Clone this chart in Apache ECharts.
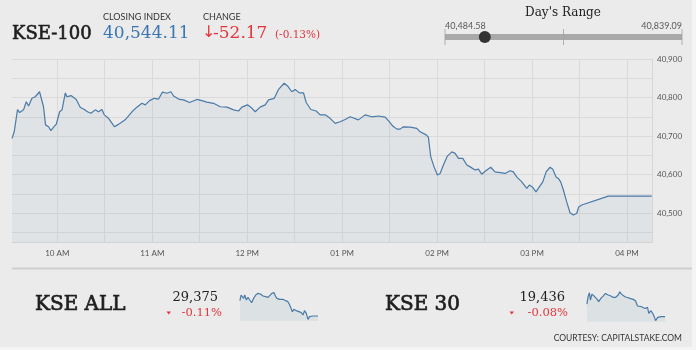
<!DOCTYPE html>
<html><head><meta charset="utf-8">
<script src="https://cdn.jsdelivr.net/npm/echarts@6/dist/echarts.min.js"></script>
<style>html,body{margin:0;padding:0;background:#ebebeb}#c{width:696px;height:350px}</style>
</head><body><div id="c"></div>
<script>
// ---------- data ----------
const kse100Times = ['09:31:24','09:32:48','09:34:54','09:36:12','09:38:42','09:40:24','09:41:54','09:44:00','09:46:06','09:48:48',
'09:49:42','09:51:18','09:52:36','09:54:30','09:56:00','09:57:42','09:59:24','10:01:30','10:03:00','10:05:06',
'10:06:06','10:08:42','10:12:00','10:14:30','10:17:06','10:19:06','10:21:18','10:24:00','10:26:06','10:28:12',
'10:29:42','10:32:24','10:36:12','10:38:06','10:39:18','10:42:54','10:47:12','10:50:18','10:53:30','10:55:36',
'10:58:18','11:01:18','11:04:00','11:06:30','11:09:18','11:11:48','11:13:30','11:17:12','11:19:48','11:23:36',
'11:28:12','11:31:24','11:34:30','11:38:42','11:43:00','11:47:12','11:51:24','11:54:30','11:56:42','12:00:12',
'12:02:18','12:05:06','12:08:12','12:11:24','12:13:30','12:17:06','12:19:48','12:23:24','12:25:30','12:28:12',
'12:30:18','12:33:00','12:35:36','12:37:18','12:40:12','12:43:36','12:46:06','12:49:18','12:52:24','12:55:36',
'12:58:42','13:01:54','13:05:06','13:06:06','13:10:18','13:14:30','13:18:48','13:22:54','13:27:12','13:29:54',
'13:32:00','13:34:36','13:36:36','13:38:42','13:43:00','13:47:12','13:49:18','13:53:06','13:54:30','13:56:00',
'13:58:06','14:00:12','14:01:54','14:04:00','14:06:30','14:09:18','14:11:24','14:13:30','14:16:12','14:18:48',
'14:20:54','14:24:00','14:26:06','14:28:12','14:30:48','14:33:54','14:36:36','14:39:48','14:43:00','14:46:06',
'14:48:12','14:50:18','14:53:30','14:56:42','14:58:18','15:00:12','15:02:30','15:04:36','15:06:48','15:08:54',
'15:11:24','15:13:06','15:15:12','15:16:36','15:18:06','15:19:48','15:21:54','15:24:00','15:26:06','15:28:12',
'15:29:30','15:31:24','15:48:12','16:15:36'];
const kse100Values = [40694,40711,40769,40761,40768,40789,40778,40798,40802,40815,
40815,40776,40729,40724,40714,40723,40731,40763,40768,40812,
40802,40805,40795,40775,40769,40763,40759,40768,40763,40769,
40755,40746,40724,40729,40724,40742,40763,40775,40785,40781,
40792,40798,40796,40814,40811,40815,40804,40795,40794,40787,
40795,40792,40788,40785,40776,40775,40768,40765,40775,40781,
40775,40763,40775,40781,40794,40798,40821,40837,40830,40815,
40821,40812,40812,40787,40769,40765,40755,40755,40746,40733,
40737,40743,40750,40753,40742,40755,40750,40752,40749,40737,
40726,40718,40718,40724,40723,40720,40711,40703,40697,40646,
40620,40599,40603,40625,40648,40659,40655,40642,40642,40625,
40620,40612,40614,40601,40610,40619,40607,40605,40603,40610,
40607,40594,40581,40564,40573,40568,40555,40568,40581,40607,
40619,40614,40594,40590,40581,40560,40529,40501,40495,40499,
40516,40521,40544,40544];

const kseAllTimes = ['09:31','09:37','09:44','09:50','09:56','10:04','10:13','10:22','10:32','10:42','10:53','11:05','11:17','11:31','11:44','11:57','12:05','12:16','12:22','12:28','12:35','12:43','12:57','13:14','13:28','13:40','13:49','13:57','14:03','14:11','14:23','14:37','14:49','14:58','15:06','15:15','15:24','15:32','15:50','16:16'];
const kseAllValues = [29513,29564,29573,29534,29564,29519,29543,29519,29495,29534,29564,29579,29573,29555,29549,29543,29555,29579,29594,29585,29555,29534,29525,29525,29513,29504,29474,29465,29414,29435,29423,29414,29405,29384,29423,29399,29345,29369,29375,29375];

const kse30Times = ['09:31','09:37','09:44','09:49','09:57','10:08','10:20','10:32','10:43','10:55','11:07','11:21','11:35','11:47','11:59','12:13','12:21','12:30','12:39','12:48','13:01','13:14','13:31','13:43','13:53','14:02','14:14','14:32','14:45','14:52','15:03','15:12','15:20','15:27','15:38','15:55','16:16'];
const kse30Values = [19508,19550,19573,19531,19565,19554,19541,19522,19541,19554,19569,19560,19554,19546,19546,19560,19578,19565,19554,19550,19546,19541,19535,19527,19497,19508,19493,19483,19489,19455,19470,19455,19436,19413,19432,19436,19436];

const yLabelValues = [40500,40600,40700,40800,40900];
const yGridValues = [40450,40500,40550,40600,40650,40700,40750,40800,40850,40900];
const xLabelTimes = ['10:00','11:00','12:00','13:00','14:00','15:00','16:00'];
const xGridTimes = ['10:00','10:30','11:00','11:30','12:00','12:30','13:00','13:30','14:00','14:30','15:00','15:30','16:00'];

const indexName = 'KSE-100';
const closingIndex = 40544.11, change = -52.17, changePct = -0.13;
const dayLow = 40484.58, dayHigh = 40839.09;
const kseAllClose = 29375, kseAllPct = -0.11;
const kse30Close = 19436, kse30Pct = -0.08;

// ---------- helpers ----------
const toMin = s => { const p = s.split(':').map(Number); return p[0]*60 + p[1] + (p[2]||0)/60; };
const fmt = (v, d) => v.toLocaleString('en-US', {minimumFractionDigits:d, maximumFractionDigits:d});
const xMin = 571.4, xMax = 975.8;
const LINE = '#4a7aa8', FILL = 'rgba(74,122,168,0.10)', RED = '#e2363c', BLUE = '#3a76b2';
const SERIF = '"DejaVu Serif", serif', SANS = 'Lato, "Open Sans", sans-serif';

const hourLabel = v => { const h = Math.round(v/60); const hh = h > 12 ? h-12 : h; return String(hh).padStart(2,'0') + ' ' + (h >= 12 ? 'PM' : 'AM'); };

const chart = echarts.init(document.getElementById('c'), null, {renderer:'canvas'});

const txt = (text, x, y, font, fill, align, bold) => ({type:'text', silent:true, style:Object.assign({text, x, y, font, fill, align: align||'left', verticalAlign:'middle'}, bold ? {stroke: fill, lineWidth: bold} : {})});

chart.setOption({
  backgroundColor: '#ebebeb',
  animation: false,
  grid: [
    {left: 12, top: 59, width: 640, height: 183},
    {left: 445, top: 29, width: 237, height: 16},
    {left: 240, top: 291, width: 78, height: 30},
    {left: 587, top: 291.7, width: 78, height: 30}
  ],
  xAxis: [
    {gridIndex:0, type:'value', min:xMin, max:xMax,
     axisLine:{show:true, lineStyle:{color:'#d2d2d2', width:1}},
     axisTick:{show:false, customValues: xGridTimes.map(toMin)},
     splitLine:{show:true, lineStyle:{color:'#dadada', width:1}},
     axisLabel:{customValues: xLabelTimes.map(toMin), formatter: hourLabel, fontSize:8, color:'#555', fontFamily:SANS, margin:7}},
    {gridIndex:1, type:'value', min:dayLow, max:dayHigh, show:false},
    {gridIndex:2, type:'value', min:xMin, max:xMax, show:false},
    {gridIndex:3, type:'value', min:xMin, max:xMax, show:false}
  ],
  yAxis: [
    {gridIndex:0, type:'value', position:'right', min:40425, max:40900,
     axisLine:{show:true, lineStyle:{color:'#d5d5d5'}},
     axisTick:{show:false, customValues: yGridValues},
     splitLine:{show:true, lineStyle:{color:'#dadada', width:1}},
     axisLabel:{customValues: yLabelValues, formatter: v => fmt(v,0), fontSize:8, color:'#555', fontFamily:SANS, margin:5}},
    {gridIndex:1, type:'value', min:-1, max:1, show:false},
    {gridIndex:2, type:'value', min:29330, max:29600, show:false},
    {gridIndex:3, type:'value', min:19407, max:19579, show:false}
  ],
  series: [
    {type:'line', xAxisIndex:0, yAxisIndex:0, showSymbol:false, symbol:'none',
     data: kse100Times.map((t,i) => [toMin(t), kse100Values[i]]),
     lineStyle:{color:LINE, width:1.2}, areaStyle:{color:FILL, origin:'start'}},
    // day's range bar
    {type:'line', xAxisIndex:1, yAxisIndex:1, symbol:'none', silent:true, z:2,
     data:[[dayLow,0],[dayHigh,0]], lineStyle:{color:'#a9a9a9', width:6}},
    {type:'scatter', xAxisIndex:1, yAxisIndex:1, silent:true, symbol:'rect', symbolSize:[1,16], z:3,
     data:[[dayLow,0],[(dayLow+dayHigh)/2,0],[dayHigh,0]], itemStyle:{color:'#a0a0a0'}},
    {type:'scatter', xAxisIndex:1, yAxisIndex:1, silent:true, symbolSize:0, z:3,
     data:[{value:[dayLow,0], label:{align:'left'}},{value:[dayHigh,0], label:{align:'right'}}],
     label:{show:true, position:'top', distance:6, formatter: p => fmt(p.value[0],2), fontSize:9, color:'#333', fontFamily:SANS}},
    {type:'scatter', xAxisIndex:1, yAxisIndex:1, silent:true, symbol:'circle', symbolSize:12, z:10,
     data:[[closingIndex,0]], itemStyle:{color:'#333', opacity:1}},
    // sparklines
    {type:'line', xAxisIndex:2, yAxisIndex:2, symbol:'none', silent:true,
     data: kseAllTimes.map((t,i) => [toMin(t), kseAllValues[i]]),
     lineStyle:{color:LINE, width:1.2}, areaStyle:{color:'rgba(74,122,168,0.12)', origin:'start'}},
    {type:'line', xAxisIndex:3, yAxisIndex:3, symbol:'none', silent:true,
     data: kse30Times.map((t,i) => [toMin(t), kse30Values[i]]),
     lineStyle:{color:LINE, width:1.2}, areaStyle:{color:'rgba(74,122,168,0.12)', origin:'start'}}
  ],
  graphic: [
    {type:'rect', silent:true, shape:{x:692, y:0, width:4, height:350}, style:{fill:'#f4f4f4'}},
    {type:'rect', silent:true, shape:{x:0, y:347, width:696, height:3}, style:{fill:'#f4f4f4'}},
    {type:'line', silent:true, shape:{x1:12, y1:268.5, x2:692, y2:268.5}, style:{stroke:'#cfcfcf', lineWidth:2}},
    txt(indexName, 12, 34, '18px ' + SERIF, '#1e1e1e', 'left', 0.6),
    txt('CLOSING INDEX', 103, 17.5, '9px ' + SANS, '#333'),
    txt(fmt(closingIndex,2), 103, 33.5, '17px ' + SERIF, BLUE),
    txt('CHANGE', 203, 17.5, '9px ' + SANS, '#333'),
    txt('\u2193', 202, 33, '16px "DejaVu Sans", sans-serif', RED),
    txt(fmt(change,2), 213, 33.5, '17px ' + SERIF, RED),
    txt('(' + fmt(changePct,2) + '%)', 275, 35.5, '10.5px ' + SERIF, RED),
    txt("Day's Range", 563, 13, '12px ' + SERIF, '#222', 'center'),
    txt('KSE ALL', 35, 305, '20px ' + SERIF, '#1e1e1e', 'left', 0.7),
    txt(fmt(kseAllClose,0), 218, 298, '13px ' + SERIF, '#222', 'right'),
    {type:'polygon', silent:true, shape:{points:[[166.5,311.5],[171,311.5],[168.75,314.5]]}, style:{fill:RED}},
    txt(fmt(kseAllPct,2) + '%', 222, 313, '11.5px ' + SERIF, RED, 'right'),
    txt('KSE 30', 385, 305, '20px ' + SERIF, '#1e1e1e', 'left', 0.7),
    txt(fmt(kse30Close,0), 565, 298, '13px ' + SERIF, '#222', 'right'),
    {type:'polygon', silent:true, shape:{points:[[509.5,311.5],[514,311.5],[511.75,314.5]]}, style:{fill:RED}},
    txt(fmt(kse30Pct,2) + '%', 568, 313, '11.5px ' + SERIF, RED, 'right'),
    txt('COURTESY: CAPITALSTAKE.COM', 682, 338, '8.5px ' + SANS, '#333', 'right')
  ]
});
</script></body></html>
